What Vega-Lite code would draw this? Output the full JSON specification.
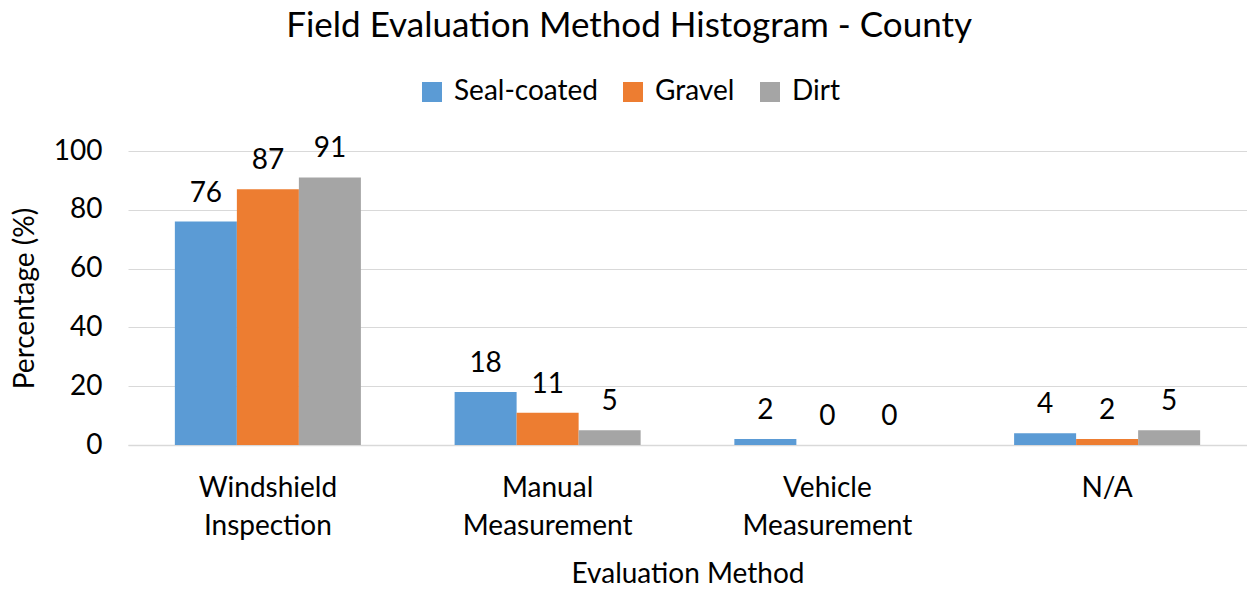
{
  "$schema": "https://vega.github.io/schema/vega-lite/v6.json",
  "autosize": {"type": "none"},
  "width": 1119,
  "height": 294,
  "padding": {"left": 128, "top": 151, "right": 0, "bottom": 145},
  "background": "white",
  "config": {
    "font": "Lato",
    "view": {"stroke": null}
  },
  "title": {
    "text": "Field Evaluation Method Histogram - County",
    "fontSize": 35,
    "fontWeight": "normal",
    "color": "#000000",
    "anchor": "middle",
    "frame": "bounds",
    "offset": 34
  },
  "data": {
    "values": [
      {"method": "Windshield Inspection", "surface": "Seal-coated", "pct": 76},
      {"method": "Windshield Inspection", "surface": "Gravel", "pct": 87},
      {"method": "Windshield Inspection", "surface": "Dirt", "pct": 91},
      {"method": "Manual Measurement", "surface": "Seal-coated", "pct": 18},
      {"method": "Manual Measurement", "surface": "Gravel", "pct": 11},
      {"method": "Manual Measurement", "surface": "Dirt", "pct": 5},
      {"method": "Vehicle Measurement", "surface": "Seal-coated", "pct": 2},
      {"method": "Vehicle Measurement", "surface": "Gravel", "pct": 0},
      {"method": "Vehicle Measurement", "surface": "Dirt", "pct": 0},
      {"method": "N/A", "surface": "Seal-coated", "pct": 4},
      {"method": "N/A", "surface": "Gravel", "pct": 2},
      {"method": "N/A", "surface": "Dirt", "pct": 5}
    ]
  },
  "encoding": {
    "x": {
      "field": "method",
      "type": "nominal",
      "sort": ["Windshield Inspection", "Manual Measurement", "Vehicle Measurement", "N/A"],
      "scale": {"paddingInner": 0.335, "paddingOuter": 0.1675},
      "axis": {
        "title": "Evaluation Method",
        "titleFontSize": 28,
        "titleFontWeight": "normal",
        "titleColor": "#000000",
        "titlePadding": 20,
        "labelExpr": "split(datum.label, ' ')",
        "labelFontSize": 28,
        "labelColor": "#000000",
        "labelAngle": 0,
        "labelPadding": 29,
        "labelLineHeight": 38,
        "ticks": false,
        "tickSize": 0,
        "domainColor": "#D9D9D9",
        "domainWidth": 1.5,
        "grid": false
      }
    },
    "xOffset": {
      "field": "surface",
      "type": "nominal",
      "sort": ["Seal-coated", "Gravel", "Dirt"],
      "scale": {"paddingInner": 0, "paddingOuter": 0}
    },
    "y": {
      "field": "pct",
      "type": "quantitative",
      "scale": {"domain": [0, 100]},
      "axis": {
        "title": "Percentage (%)",
        "titleFontSize": 28,
        "titleFontWeight": "normal",
        "titleColor": "#000000",
        "titlePadding": 14,
        "labelFontSize": 28,
        "labelColor": "#000000",
        "labelPadding": 26,
        "labelOverlap": false,
        "values": [0, 20, 40, 60, 80, 100],
        "ticks": false,
        "tickSize": 0,
        "domain": false,
        "gridColor": "#D9D9D9",
        "gridWidth": 1.2
      }
    }
  },
  "layer": [
    {
      "mark": {"type": "bar"},
      "encoding": {
        "color": {
          "field": "surface",
          "type": "nominal",
          "scale": {
            "domain": ["Seal-coated", "Gravel", "Dirt"],
            "range": ["#5B9BD5", "#ED7D31", "#A5A5A5"]
          },
          "legend": {
            "title": null,
            "orient": "none",
            "direction": "horizontal",
            "legendX": 290,
            "legendY": -73,
            "symbolType": "square",
            "symbolSize": 400,
            "symbolStrokeWidth": 0,
            "labelFontSize": 28,
            "labelColor": "#000000",
            "columnPadding": 21,
            "labelOffset": 8
          }
        }
      }
    },
    {
      "mark": {"type": "text", "baseline": "bottom", "dy": -14, "fontSize": 28, "color": "#000000"},
      "encoding": {
        "text": {"field": "pct", "type": "quantitative"}
      }
    }
  ]
}
